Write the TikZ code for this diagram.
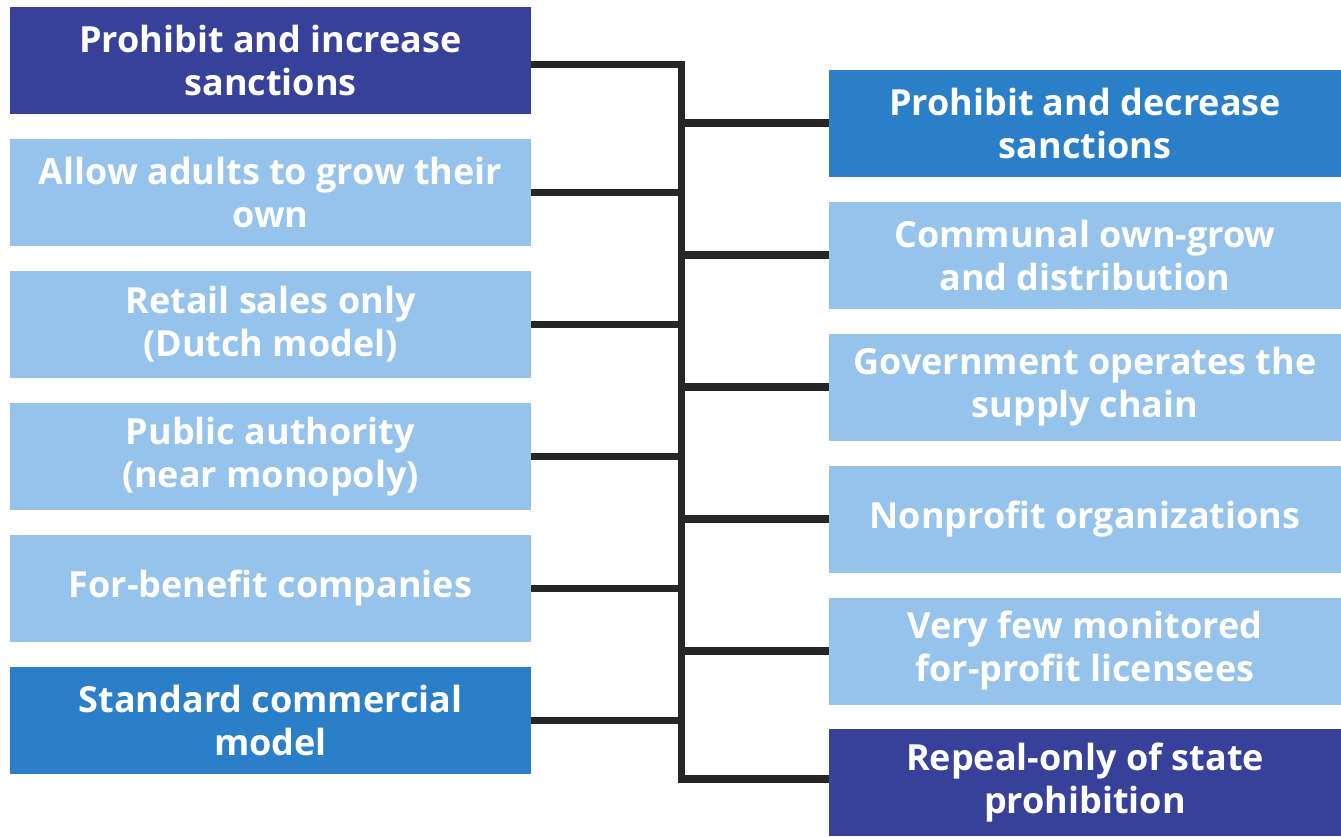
\documentclass[tikz,border=0pt]{standalone}
\usepackage{fontspec}
\setmainfont{Open Sans}
\definecolor{cdark}{HTML}{37419A}
\definecolor{cmed}{HTML}{2A7FC8}
\definecolor{clight}{HTML}{95C3EC}
\definecolor{cline}{HTML}{262626}
\begin{document}
\begin{tikzpicture}[x=1pt,y=-1pt,
  box/.style={draw=none, minimum height=107pt, inner sep=0pt, align=center,
    text=white, font=\fontsize{36}{43}\selectfont\bfseries},
  lbox/.style={box, minimum width=521pt},
  rbox/.style={box, minimum width=512pt},
  conn/.style={draw=cline, line width=7.5pt, line join=miter}]
\useasboundingbox (0,0) rectangle (1341,836);
% left column
\node[lbox, fill=cdark]  (L1) at (270.5,60.5)  {Prohibit and increase\\sanctions};
\node[lbox, fill=clight] (L2) at (270.5,192.5) {Allow adults to grow their\\own};
\node[lbox, fill=clight] (L3) at (270.5,324.5) {Retail sales only\\(Dutch model)};
\node[lbox, fill=clight] (L4) at (270.5,456.5) {Public authority\\(near monopoly)};
\node[lbox, fill=clight] (L5) at (270.5,588.5) {For-benefit companies};
\node[lbox, fill=cmed]   (L6) at (270.5,720.5) {Standard commercial\\model};
% right column
\node[rbox, fill=cmed]   (R1) at (1085,123) {Prohibit and decrease\\sanctions};
\node[rbox, fill=clight] (R2) at (1085,255) {Communal own-grow\\and distribution};
\node[rbox, fill=clight] (R3) at (1085,387) {Government operates the\\supply chain};
\node[rbox, fill=clight] (R4) at (1085,519) {Nonprofit organizations};
\node[rbox, fill=clight] (R5) at (1085,651) {Very few monitored\\for-profit licensees};
\node[rbox, fill=cdark]  (R6) at (1085,782.5) {Repeal-only of state\\prohibition};
% bus
\coordinate (bus) at (681.5,0);
\coordinate (busTop) at (681.5,64.5);
\coordinate (busBot) at (681.5,779);
\draw[conn] ([yshift=-4pt]L1.east) -- (busTop) -- (busBot) -- (busBot -| R6.west);
\foreach \n in {L2,L3,L4,L5,L6}{
  \draw[conn] (\n.east) -- (\n.east -| bus);
}
\foreach \n in {R1,R2,R3,R4,R5}{
  \draw[conn] (\n.west -| bus) -- (\n.west);
}
\end{tikzpicture}
\end{document}
